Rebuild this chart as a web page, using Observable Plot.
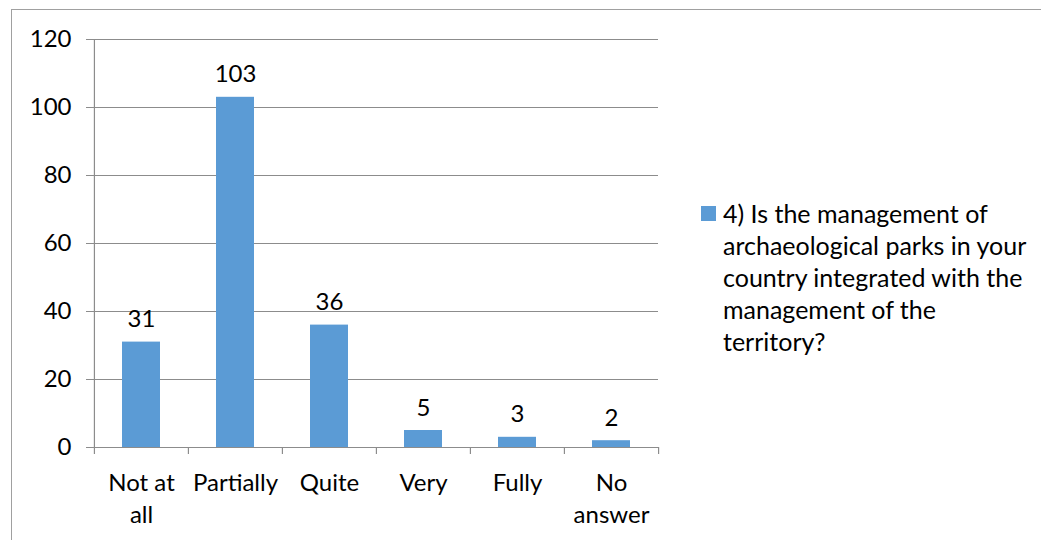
<!DOCTYPE html>
<html>
<head>
<meta charset="utf-8">
<script src="https://cdn.jsdelivr.net/npm/d3@7"></script>
<script src="https://cdn.jsdelivr.net/npm/@observablehq/plot@0.6"></script>
<style>
  html, body { margin: 0; padding: 0; background: #fff; }
  body { width: 1041px; height: 540px; position: relative; overflow: hidden; font-family: Lato, "Open Sans", sans-serif; }
  #border { position: absolute; left: 11px; top: 9px; width: 1100px; height: 600px; border: 1.5px solid #a0a0a0; box-sizing: border-box; }
  #chart { position: absolute; left: 0; top: 0; }
  #legend-sw { position: absolute; left: 701px; top: 206px; width: 15px; height: 15px; background: #5B9BD5; }
  #legendText { position: absolute; left: 723px; top: 197px; font-size: 25px; line-height: 32px; color: #000; white-space: nowrap; }
</style>
</head>
<body>
<div id="border"></div>
<div id="chart"></div>
<div id="legend-sw"></div>
<div id="legendText"></div>
<script>
const categories = ["Not at all", "Partially", "Quite", "Very", "Fully", "No answer"];
const categoryLabels = ["Not at\nall", "Partially", "Quite", "Very", "Fully", "No\nanswer"];
const values = [31, 103, 36, 5, 3, 2];
const yTicks = [0, 20, 40, 60, 80, 100, 120];
const legendLines = ["4) Is the management of", "archaeological parks in your", "country integrated with the", "management of the", "territory?"];

const data = categories.map((c, i) => ({category: c, label: categoryLabels[i], value: values[i]}));

const W = 1041, H = 540;
const mL = 93, mR = 383, mT = 39, mB = 93;
const step = (W - mL - mR) / categories.length;
const pxPerUnit = (H - mT - mB) / 120;
const tickExt = 7 / pxPerUnit;
const gridColor = "#8c8c8c";
const fs = 24;

const plot = Plot.plot({
  width: W,
  height: H,
  marginLeft: mL,
  marginRight: mR,
  marginTop: mT,
  marginBottom: mB,
  style: {fontFamily: "Lato, 'Open Sans', sans-serif", fontSize: fs + "px", color: "#000", background: "transparent"},
  x: {domain: categories, paddingInner: 0.6, paddingOuter: 0.3, axis: null},
  y: {domain: [0, 120], axis: null},
  marks: [
    Plot.ruleY(yTicks, {y: d => d, stroke: gridColor, strokeWidth: 1.2}),
    Plot.axisY({ticks: yTicks, tickSize: 7, tickPadding: 15, stroke: gridColor, fill: "#000", fontSize: fs, label: null}),
    Plot.ruleX(categories, {x: d => d, dx: -step / 2, y1: -tickExt, y2: (d, i) => i === 0 ? 120 : 0, stroke: gridColor, strokeWidth: 1.2}),
    Plot.ruleX([categories[categories.length - 1]], {x: d => d, dx: step / 2, y1: -tickExt, y2: 0, stroke: gridColor, strokeWidth: 1.2}),
    Plot.barY(data, {x: "category", y: "value", fill: "#5B9BD5"}),
    Plot.text(data, {x: "category", y: "value", text: d => String(d.value), dy: -15, lineAnchor: "bottom", fill: "#000", fontSize: fs}),
    Plot.text(data, {x: "category", y: 0, text: "label", dy: 21, lineAnchor: "top", lineHeight: 32 / fs, fill: "#000", fontSize: fs})
  ]
});
document.getElementById("chart").appendChild(plot);
document.getElementById("legendText").innerHTML = legendLines.join("<br>");
</script>
</body>
</html>
